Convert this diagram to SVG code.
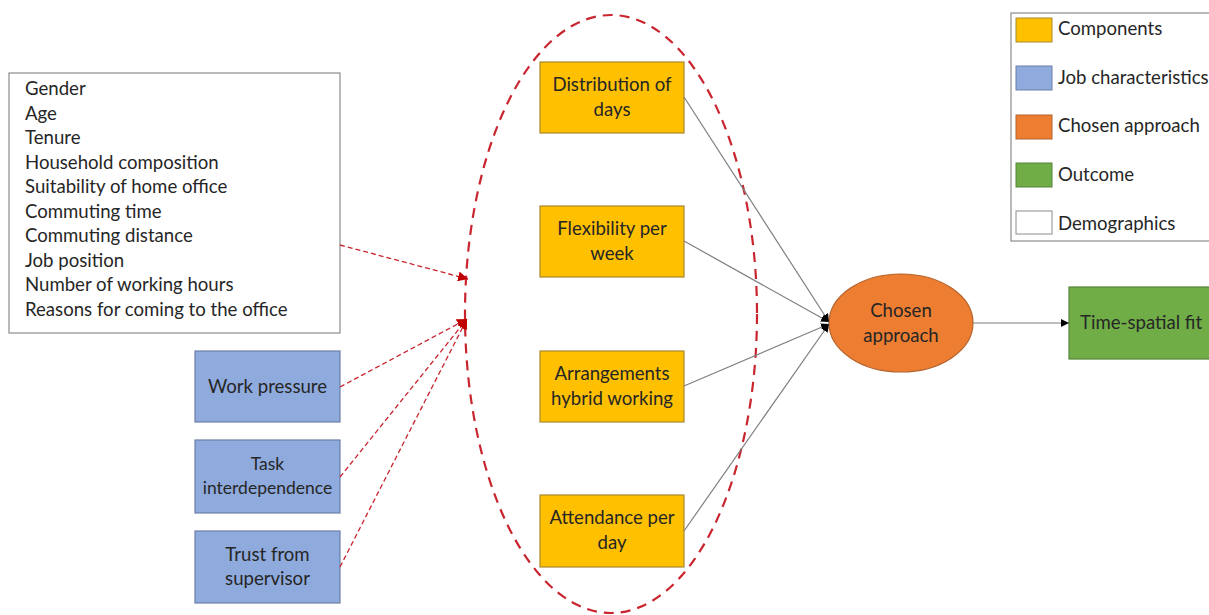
<svg xmlns="http://www.w3.org/2000/svg" width="1209" height="615" viewBox="0 0 1209 615">
<style>
text{font-family:Lato,"Open Sans","Liberation Sans",sans-serif;font-size:18.6px;fill:#262626}
.c{text-anchor:middle}
.comp{fill:#FFC000;stroke:#A8892E;stroke-width:1.2}
.job{fill:#8FAADC;stroke:#6C7FA6;stroke-width:1.2}
.gray{stroke:#7F7F7F;stroke-width:1.2;fill:none}
.red{stroke:#C9252F;stroke-width:1.3;stroke-dasharray:5 3;fill:none}
</style>
<defs>
<marker id="ab" viewBox="0 0 10 10" refX="10" refY="5" markerWidth="8" markerHeight="8" markerUnits="userSpaceOnUse" orient="auto"><path d="M0,0L10,5L0,10z" fill="#000"/></marker>
<marker id="ar" viewBox="0 0 10 10" refX="10" refY="5" markerWidth="10" markerHeight="10" markerUnits="userSpaceOnUse" orient="auto"><path d="M0,0L10,5L0,10z" fill="#C00000"/></marker>
</defs>
<rect width="1209" height="615" fill="#fff"/>
<g id="group-ellipse"><ellipse cx="611" cy="314" rx="146" ry="299" fill="none" stroke="#C9252F" stroke-width="2.2" stroke-dasharray="10 7"/></g>
<g id="demographics"><rect x="9" y="73" width="331" height="260" fill="#fff" stroke="#8C8C8C" stroke-width="1.2"/>
<text x="25" y="95">Gender</text><text x="25" y="119.5">Age</text><text x="25" y="144">Tenure</text><text x="25" y="168.5">Household composition</text><text x="25" y="193">Suitability of home office</text><text x="25" y="217.5">Commuting time</text><text x="25" y="242">Commuting distance</text><text x="25" y="266.5">Job position</text><text x="25" y="291">Number of working hours</text><text x="25" y="315.5">Reasons for coming to the office</text></g>
<g id="work-pressure"><rect class="job" x="195" y="351" width="145" height="71"/><text class="c" x="267.5" y="393">Work pressure</text></g>
<g id="task-interdependence"><rect class="job" x="195" y="440" width="145" height="73"/><text class="c" x="267.5" y="470" style="font-size:17.5px">Task</text><text class="c" x="267.5" y="494" style="font-size:17.5px">interdependence</text></g>
<g id="trust"><rect class="job" x="195" y="531" width="145" height="72"/><text class="c" x="267.5" y="561">Trust from</text><text class="c" x="267.5" y="585">supervisor</text></g>
<g id="distribution"><rect class="comp" x="540" y="62" width="144" height="71"/><text class="c" x="612" y="91">Distribution of</text><text class="c" x="612" y="116">days</text></g>
<g id="flexibility"><rect class="comp" x="540" y="206" width="144" height="71"/><text class="c" x="612" y="235">Flexibility per</text><text class="c" x="612" y="260">week</text></g>
<g id="arrangements"><rect class="comp" x="540" y="351" width="144" height="71"/><text class="c" x="612" y="380">Arrangements</text><text class="c" x="612" y="405">hybrid working</text></g>
<g id="attendance"><rect class="comp" x="540" y="495" width="144" height="72"/><text class="c" x="612" y="524">Attendance per</text><text class="c" x="612" y="549">day</text></g>
<g id="chosen-approach"><ellipse cx="901" cy="323" rx="72" ry="49" fill="#ED7D31" stroke="#B5622A" stroke-width="1.2"/><text class="c" x="901" y="317">Chosen</text><text class="c" x="901" y="342">approach</text></g>
<g id="time-spatial-fit"><rect x="1069" y="287" width="150" height="72" fill="#70AD47" stroke="#55843A" stroke-width="1.2"/><text x="1080" y="329">Time-spatial fit</text></g>
<g id="legend"><rect x="1011" y="13" width="210" height="228" fill="#fff" stroke="#8C8C8C" stroke-width="1.2"/>
<rect x="1016" y="18" width="36" height="24" fill="#FFC000" stroke="#A8892E"/><text x="1058" y="35">Components</text>
<rect x="1016" y="66" width="36" height="24" fill="#8FAADC" stroke="#6C7FA6"/><text x="1058" y="84">Job characteristics</text>
<rect x="1016" y="115" width="36" height="24" fill="#ED7D31" stroke="#B5622A"/><text x="1058" y="132">Chosen approach</text>
<rect x="1016" y="163" width="36" height="24" fill="#70AD47" stroke="#55843A"/><text x="1058" y="181">Outcome</text>
<rect x="1016" y="211" width="36" height="23" fill="#fff" stroke="#8C8C8C"/><text x="1058" y="230">Demographics</text></g>
<g id="connectors">
<line class="gray" x1="684" y1="97" x2="829" y2="322" marker-end="url(#ab)"/>
<line class="gray" x1="684" y1="241" x2="829" y2="322" marker-end="url(#ab)"/>
<line class="gray" x1="684" y1="386" x2="829" y2="324" marker-end="url(#ab)"/>
<line class="gray" x1="684" y1="531" x2="829" y2="324" marker-end="url(#ab)"/>
<line class="gray" x1="973" y1="323" x2="1069" y2="323" marker-end="url(#ab)"/>
<line class="red" x1="340" y1="245" x2="468" y2="279" marker-end="url(#ar)"/>
<line class="red" x1="340" y1="387" x2="467" y2="319" marker-end="url(#ar)"/>
<line class="red" x1="340" y1="477" x2="467" y2="319" marker-end="url(#ar)"/>
<line class="red" x1="340" y1="567" x2="467" y2="319" marker-end="url(#ar)"/>
</g>
</svg>
